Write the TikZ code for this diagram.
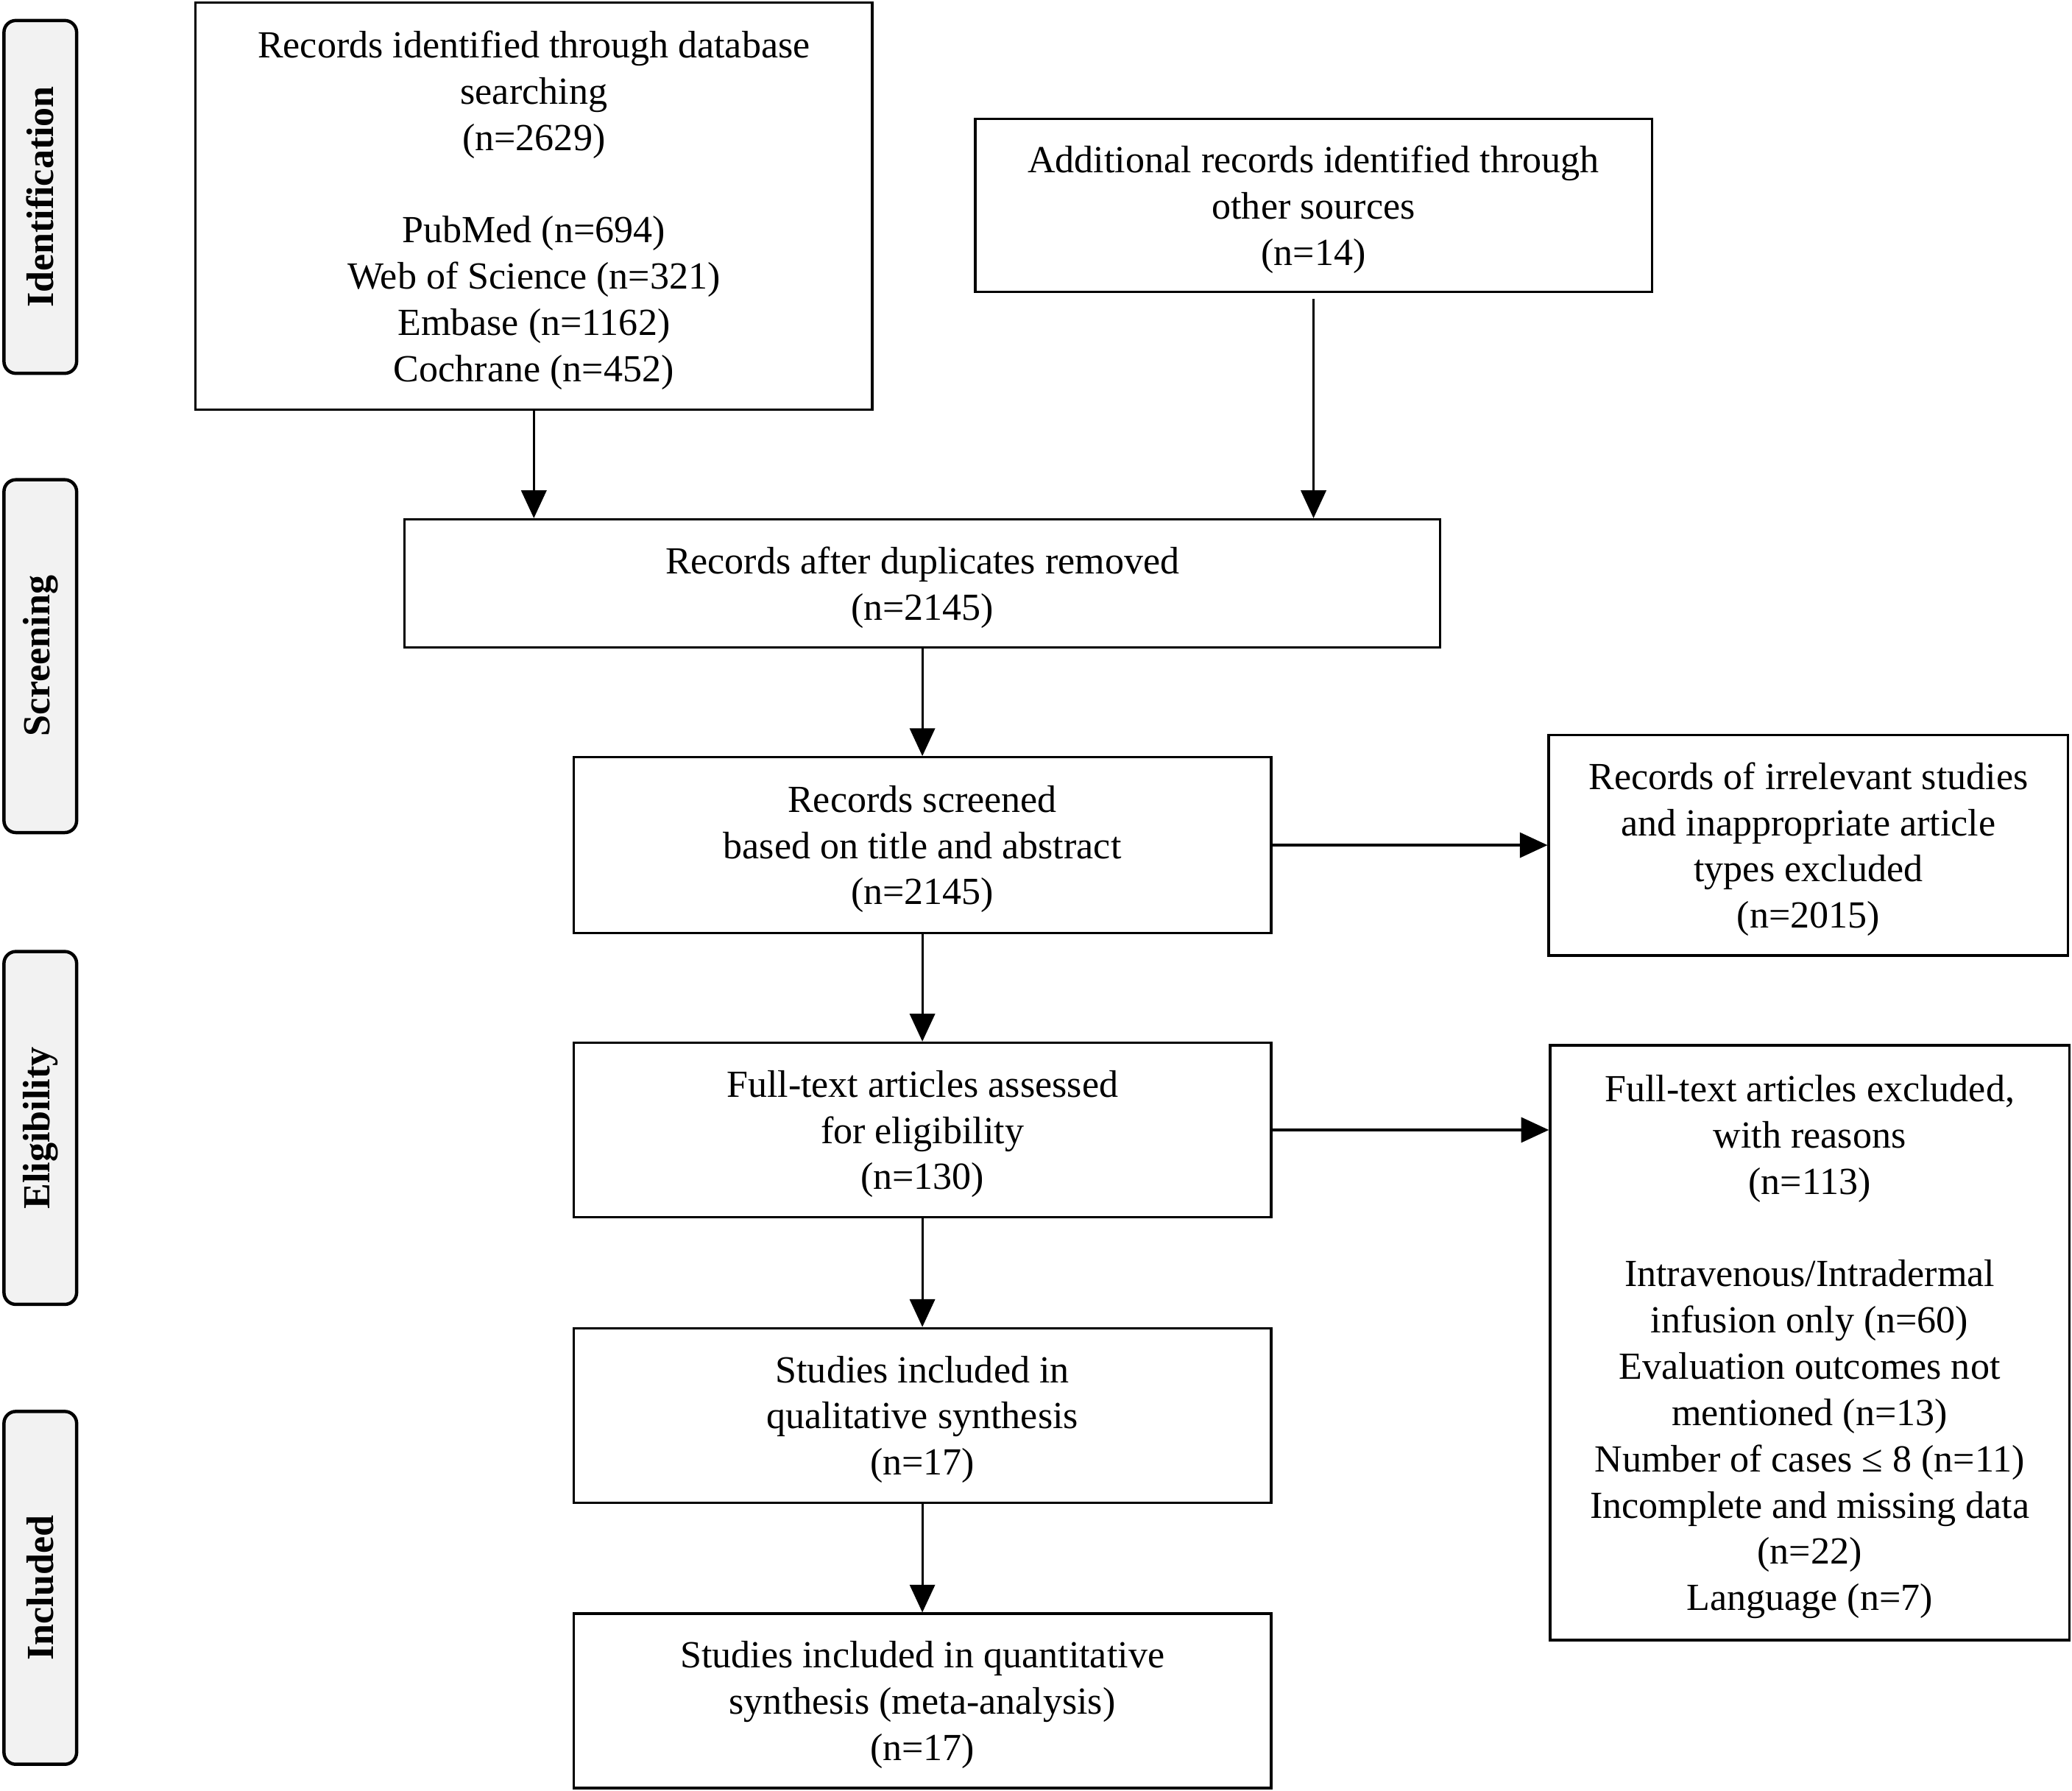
\documentclass[tikz,border=0pt]{standalone}
\usepackage{fontspec}
\setmainfont{Liberation Serif}
\usetikzlibrary{arrows.meta}
\definecolor{sidegray}{HTML}{F2F2F2}
\begin{document}
\begin{tikzpicture}[x=1pt,y=-1pt,
  box/.style={draw, line width=1.8pt, align=center, inner sep=0pt, text depth=0pt, font=\fontsize{29}{35}\selectfont},
  side/.style={draw, line width=2.5pt, rounded corners=9pt, fill=sidegray, inner sep=0pt, rotate=90,
    minimum width=267pt, minimum height=55pt, font=\bfseries\fontsize{29}{35}\selectfont},
  arr/.style={line width=1.8pt, -{Triangle[width=19pt,length=21pt]}}]
\useasboundingbox (0,0) rectangle (1568,1355);
% stage labels
\node[side] (sid) at (30.5,149) {Identification};
\node[side] (sscr) at (30.5,496.5) {Screening};
\node[side] (selig) at (30.5,853.5) {Eligibility};
\node[side] (sincl) at (30.5,1201.5) {Included};
% boxes
\node[box, minimum width=512pt, minimum height=308pt] (A) at (404,156)
  {Records identified through database\\searching\\(n=2629)\\[35pt]PubMed (n=694)\\Web of Science (n=321)\\Embase (n=1162)\\Cochrane (n=452)};
\node[box, minimum width=512pt, minimum height=131pt] (B) at (994,155.5)
  {Additional records identified through\\other sources\\(n=14)};
\node[box, minimum width=784pt, minimum height=97pt] (C) at (698,441.5)
  {Records after duplicates removed\\(n=2145)};
\node[box, minimum width=528pt, minimum height=133pt] (D) at (698,639.5)
  {Records screened\\based on title and abstract\\(n=2145)};
\node[box, minimum width=393pt, minimum height=167pt] (E) at (1368.5,639.5)
  {Records of irrelevant studies\\and inappropriate article\\types excluded\\(n=2015)};
\node[box, minimum width=528pt, minimum height=132pt] (F) at (698,855)
  {Full-text articles assessed\\for eligibility\\(n=130)};
\node[box, minimum width=393pt, minimum height=450pt] (G) at (1369.5,1016)
  {Full-text articles excluded,\\with reasons\\(n=113)\\[35pt]Intravenous/Intradermal\\infusion only (n=60)\\Evaluation outcomes not\\mentioned (n=13)\\Number of cases ≤ 8 (n=11)\\Incomplete and missing data\\(n=22)\\Language (n=7)};
\node[box, minimum width=528pt, minimum height=132pt] (H) at (698,1071)
  {Studies included in\\qualitative synthesis\\(n=17)};
\node[box, minimum width=528pt, minimum height=132pt] (I) at (698,1287)
  {Studies included in quantitative\\synthesis (meta-analysis)\\(n=17)};
% connectors
\draw[arr] (A.south) -- (A.south |- C.north);
\draw[arr, shorten <=4pt] (B.south) -- (B.south |- C.north);
\draw[arr] (C.south) -- (D.north);
\draw[arr] (D.east) -- (E.west);
\draw[arr] (D.south) -- (F.north);
\draw[arr] (F.east) -- (F.east -| G.west);
\draw[arr] (F.south) -- (H.north);
\draw[arr] (H.south) -- (I.north);
\end{tikzpicture}
\end{document}
